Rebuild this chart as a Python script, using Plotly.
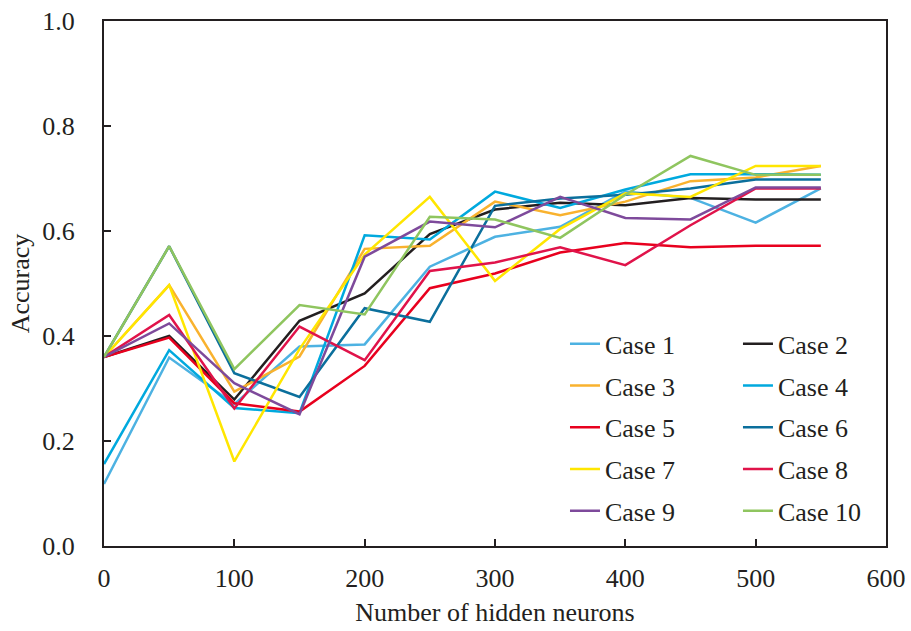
import plotly.graph_objects as go

x_neurons = [0, 50, 100, 150, 200, 250, 300, 350, 400, 450, 500, 550]

case_names = ["Case 1", "Case 2", "Case 3", "Case 4", "Case 5",
              "Case 6", "Case 7", "Case 8", "Case 9", "Case 10"]

case1 = [0.118, 0.359, 0.270, 0.380, 0.384, 0.532, 0.589, 0.608, 0.675, 0.663, 0.616, 0.681]
case2 = [0.360, 0.400, 0.279, 0.429, 0.481, 0.594, 0.641, 0.654, 0.649, 0.663, 0.660, 0.660]
case3 = [0.360, 0.497, 0.294, 0.361, 0.566, 0.572, 0.656, 0.630, 0.656, 0.695, 0.702, 0.724]
case4 = [0.156, 0.373, 0.263, 0.253, 0.592, 0.584, 0.675, 0.644, 0.679, 0.708, 0.708, 0.707]
case5 = [0.360, 0.397, 0.272, 0.256, 0.343, 0.491, 0.519, 0.559, 0.577, 0.569, 0.572, 0.572]
case6 = [0.360, 0.571, 0.329, 0.284, 0.453, 0.427, 0.648, 0.662, 0.669, 0.681, 0.698, 0.698]
case7 = [0.360, 0.497, 0.161, 0.375, 0.555, 0.665, 0.505, 0.604, 0.672, 0.665, 0.724, 0.724]
case8 = [0.360, 0.440, 0.262, 0.418, 0.354, 0.524, 0.540, 0.569, 0.535, 0.611, 0.681, 0.681]
case9 = [0.360, 0.424, 0.310, 0.251, 0.551, 0.618, 0.607, 0.665, 0.625, 0.622, 0.683, 0.683]
case10 = [0.360, 0.571, 0.337, 0.459, 0.441, 0.627, 0.622, 0.587, 0.669, 0.743, 0.707, 0.707]

series = [case1, case2, case3, case4, case5, case6, case7, case8, case9, case10]

colors = ["#4DB2E2", "#231F20", "#F9B22E", "#00A9DE", "#E8001E",
          "#0B6F9C", "#FFE600", "#E0134A", "#7E4A9B", "#8FC55F"]

x_ticks = [0, 100, 200, 300, 400, 500, 600]
y_ticks = [0.0, 0.2, 0.4, 0.6, 0.8, 1.0]

FONT = "Liberation Serif, Times New Roman, serif"
TXT = "#231F20"
FS = 26

fig = go.Figure()
for i, (name, ys, col) in enumerate(zip(case_names, series, colors)):
    fig.add_trace(go.Scatter(
        x=x_neurons, y=ys, mode="lines", name=name,
        line=dict(color=col, width=2.5),
        legend="legend" if i % 2 == 0 else "legend2",
        legendgroup=name,
    ))

leg_common = dict(
    bgcolor="rgba(0,0,0,0)", borderwidth=0,
    font=dict(family=FONT, size=FS, color=TXT),
    tracegroupgap=5, yanchor="top", xanchor="left",
    orientation="v",
)

fig.update_layout(
    width=911, height=631,
    margin=dict(l=104, r=25, t=21, b=85, autoexpand=False),
    paper_bgcolor="white", plot_bgcolor="white",
    font=dict(family=FONT, size=FS, color=TXT),
    showlegend=True,
    legend=dict(x=0.5895, y=0.43, **leg_common),
    legend2=dict(x=0.8107, y=0.43, **leg_common),
    xaxis=dict(
        range=[0, 600], tickvals=x_ticks, ticktext=[str(v) for v in x_ticks],
        ticks="inside", ticklen=7, tickwidth=1.5, tickcolor=TXT,
        showline=True, linecolor=TXT, linewidth=2.2, mirror=True,
        showgrid=False, zeroline=False, automargin=False,
        ticklabelstandoff=8,
        tickfont=dict(family=FONT, size=FS, color=TXT),
        title=dict(text="Number of hidden neurons", standoff=11,
                   font=dict(family=FONT, size=FS, color=TXT)),
    ),
    yaxis=dict(
        range=[0, 1.0], tickvals=y_ticks, ticktext=[f"{v:.1f}" for v in y_ticks],
        ticks="inside", ticklen=7, tickwidth=1.5, tickcolor=TXT,
        showline=True, linecolor=TXT, linewidth=2.2, mirror=True,
        showgrid=False, zeroline=False, automargin=False,
        ticklabelstandoff=22,
        tickfont=dict(family=FONT, size=FS, color=TXT),
        title=dict(text="Accuracy", standoff=5,
                   font=dict(family=FONT, size=FS, color=TXT)),
    ),
)

fig.write_html(
    "out.html",
    config={"displayModeBar": False},
    post_script="document.body.style.margin='0px';document.body.style.overflow='hidden';",
)
